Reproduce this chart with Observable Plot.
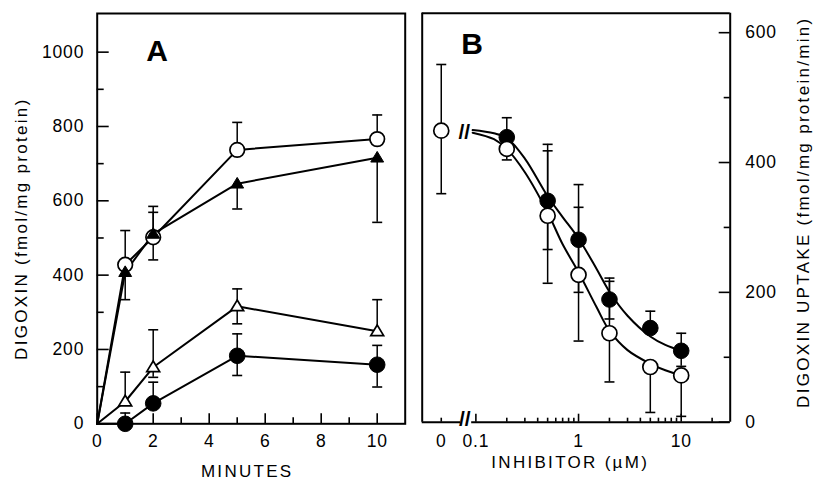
<!DOCTYPE html>
<html><head><meta charset="utf-8">
<script src="https://cdn.jsdelivr.net/npm/d3@7"></script>
<script src="https://cdn.jsdelivr.net/npm/@observablehq/plot@0.6"></script>
<style>
body{margin:0;background:#fff;}
#chart{position:relative;width:813px;height:482px;background:#fff;}
#chart svg{position:absolute;left:0;top:0;}
</style></head><body><div id="chart"></div>
<script>
// ---------- Panel A: time course ----------
const minutes = [1, 2, 5, 10];
const openCircleA   = [428, 502, 737, 766];
const openCircleALo = [428, 441, 737, 766];
const openCircleAHi = [520, 569, 811, 831];
const filledTriA    = [408, 511, 646, 716];
const filledTriALo  = [334, 511, 578, 542];
const filledTriAHi  = [408, 585, 646, 716];
const openTriA      = [60, 152, 316, 249];
const openTriALo    = [60, 125, 269, 249];
const openTriAHi    = [139, 253, 363, 334];
const filledCircleA   = [0, 55, 183, 159];
const filledCircleALo = [0, 55, 130, 99];
const filledCircleAHi = [29, 112, 242, 211];
const xTicksA = [0, 2, 4, 6, 8, 10];
const xMinorA = [1, 3, 5, 7, 9];
const yTicksA = [0, 200, 400, 600, 800, 1000];
const yMinorA = [100, 300, 500, 700, 900];

// ---------- Panel B: inhibition ----------
const ZERO = 0.046;             // axis position of the "0" (no inhibitor) category
const conc = [0.2, 0.5, 1, 2, 5, 10];
const filledB   = [439, 341, 281, 189, 145, 110];
const filledBLo = [439, 266, 200, 159, 145, 86];
const filledBHi = [469, 428, 366, 222, 171, 137];
const openB     = [421, 318, 227, 137, 85, 72];
const openBLo   = [404, 214, 125, 62, 15, 9];
const openBHi   = [421, 418, 331, 217, 85, 72];
const controlB = [449], controlBLo = [352], controlBHi = [551];
const fitConc   = [0.093, 0.15, 0.2, 0.3, 0.5, 0.7, 1, 1.5, 2, 3, 5, 7, 10];
const fitFilled = [450, 445, 438, 406, 348, 316, 283, 236, 201, 164, 132, 119, 110];
const fitOpen   = [446, 436, 421, 385, 323, 274, 231, 177, 141, 111, 90, 80, 72];
const xTicksB = [ZERO, 0.1, 1, 10];
const xTickLabelsB = ["0", "0.1", "1", "10"];
const xMinorB = [ZERO, 0.2, 0.3, 0.4, 0.5, 0.6, 0.7, 0.8, 0.9, 2, 3, 4, 5, 6, 7, 8, 9, 20];
const yTicksB = [0, 200, 400, 600];
const yMinorB = [100, 300, 500];
const BREAK_L = 0.071, BREAK_R = 0.091, BREAK_MARK = 0.078;

// ---------- helpers ----------
const capSymbol = {draw(ctx, size) { const r = Math.sqrt(size / Math.PI); ctx.moveTo(-r, 0); ctx.lineTo(r, 0); }};
const triSymbol = {draw(ctx, size) { const r = Math.sqrt(size / Math.PI);
  ctx.moveTo(0, -0.9 * r); ctx.lineTo(0.92 * r, 0.62 * r); ctx.lineTo(-0.92 * r, 0.62 * r); ctx.closePath(); }};
const rows = (xs, ys, lo, hi) => xs.map((x, i) => ({x, y: ys[i], lo: lo[i], hi: hi[i]}));
const caps = (rs) => rs.flatMap(d => [d.lo !== d.y ? {x: d.x, y: d.lo} : null, d.hi !== d.y ? {x: d.x, y: d.hi} : null]).filter(Boolean);
const font = "'Liberation Sans', Arial, Helvetica, sans-serif";
const LW = 2, TFS = 17.5, TITLE = 17;
const mid = {textAnchor: "middle", lineAnchor: "middle", fill: "black"};
const titles = ["MINUTES", "DIGOXIN (fmol/mg protein)", "INHIBITOR (\u00b5M)", "DIGOXIN UPTAKE (fmol/mg protein/min)"];

// ---------- Panel A plot ----------
const A = {oc: rows(minutes, openCircleA, openCircleALo, openCircleAHi),
           ft: rows(minutes, filledTriA, filledTriALo, filledTriAHi),
           ot: rows(minutes, openTriA, openTriALo, openTriAHi),
           fc: rows(minutes, filledCircleA, filledCircleALo, filledCircleAHi)};
const allA = [...A.oc, ...A.ft, ...A.ot, ...A.fc];
const origin = {x: 0, y: 0};
const mlA = 96.7, mrA = 813 - 404.7, mtA = 13, mbA = 482 - 423.3;
const phA = 482 - mtA - mbA, pwA = 813 - mlA - mrA;

const plotA = Plot.plot({
  width: 813, height: 482,
  marginLeft: mlA, marginRight: mrA, marginTop: mtA, marginBottom: mbA,
  style: {fontFamily: font, background: "white", color: "black"},
  x: {domain: [0, 11], axis: null},
  y: {domain: [0, 1104], axis: null},
  marks: [
    Plot.tickX(xTicksA, {x: d => d, insetTop: phA - 10, strokeWidth: 1.6}),
    Plot.tickX(xMinorA, {x: d => d, insetTop: phA - 6, strokeWidth: 1.6}),
    Plot.tickY(yTicksA, {y: d => d, insetRight: pwA - 12, strokeWidth: 1.6}),
    Plot.tickY(yMinorA, {y: d => d, insetRight: pwA - 7, strokeWidth: 1.6}),
    Plot.text(xTicksA, {x: d => d, frameAnchor: "bottom", dy: 18, text: d => String(d), fontSize: TFS, ...mid}),
    Plot.text(yTicksA, {y: d => d, frameAnchor: "left", dx: -13, text: d => String(d), fontSize: TFS, ...mid, textAnchor: "end"}),
    Plot.frame({stroke: "black", strokeWidth: 2}),
    ...[A.oc, A.ft, A.ot, A.fc].map(s => Plot.line([origin, ...s], {x: "x", y: "y", stroke: "black", strokeWidth: LW})),
    Plot.ruleX(allA, {x: "x", y1: "lo", y2: "hi", stroke: "black", strokeWidth: 1.5}),
    Plot.dot(caps(allA), {x: "x", y: "y", symbol: capSymbol, r: 5, stroke: "black", strokeWidth: 1.6, fill: "none"}),
    Plot.dot(A.oc, {x: "x", y: "y", r: 7.3, fill: "white", stroke: "black", strokeWidth: 1.7}),
    Plot.dot(A.ft, {x: "x", y: "y", r: 7, symbol: triSymbol, fill: "black", stroke: "black", strokeWidth: 1}),
    Plot.dot(A.ot, {x: "x", y: "y", r: 7, symbol: triSymbol, fill: "white", stroke: "black", strokeWidth: 1.7}),
    Plot.dot(A.fc, {x: "x", y: "y", r: 7.8, fill: "black", stroke: "black", strokeWidth: 1}),
    Plot.text(["A"], {frameAnchor: "top-left", dx: 60, dy: 38, fontSize: 30, fontWeight: "bold", ...mid}),
    Plot.text(["MINUTES"], {frameAnchor: "bottom", dx: -4, dy: 48, fontSize: TITLE, ...mid}),
    Plot.text(["DIGOXIN (fmol/mg protein)"], {frameAnchor: "left", dx: -76, dy: 10, rotate: -90, fontSize: TITLE, ...mid})
  ]
});

// ---------- Panel B plot ----------
const fb = rows(conc, filledB, filledBLo, filledBHi);
const ob = rows(conc, openB, openBLo, openBHi);
const cb = rows([ZERO], controlB, controlBLo, controlBHi);
const allB = [...fb, ...ob, ...cb];
const fitF = fitConc.map((x, i) => ({x, y: fitFilled[i]}));
const fitO = fitConc.map((x, i) => ({x, y: fitOpen[i]}));
const mlB = 421.7, mrB = 813 - 729.7, mtB = 12.7, mbB = 482 - 421.7;
const phB = 482 - mtB - mbB, pwB = 813 - mlB - mrB;
const xMinB = 0.03, xMaxB = 30, yMaxB = 630;

const plotB = Plot.plot({
  width: 813, height: 482,
  marginLeft: mlB, marginRight: mrB, marginTop: mtB, marginBottom: mbB,
  style: {fontFamily: font, background: "transparent", color: "black"},
  x: {type: "log", domain: [xMinB, xMaxB], axis: null},
  y: {domain: [0, yMaxB], axis: null},
  marks: [
    Plot.tickX(xTicksB.filter(d => d !== ZERO), {x: d => d, insetTop: phB - 8, strokeWidth: 1.6}),
    Plot.tickX(xMinorB, {x: d => d, insetTop: phB - 4, strokeWidth: 1.6}),
    Plot.tickY(yTicksB, {y: d => d, insetLeft: pwB - 11, strokeWidth: 1.6}),
    Plot.tickY(yMinorB, {y: d => d, insetLeft: pwB - 6, strokeWidth: 1.6}),
    Plot.text(xTicksB, {x: d => d, frameAnchor: "bottom", dy: 19, text: (d, i) => xTickLabelsB[i], fontSize: TFS, ...mid}),
    Plot.text(yTicksB, {y: d => d, frameAnchor: "right", dx: 15, text: d => String(d), fontSize: TFS, ...mid, textAnchor: "start"}),
    // frame with a broken bottom edge
    Plot.ruleY([yMaxB], {stroke: "black", strokeWidth: 2}),
    Plot.ruleX([xMinB, xMaxB], {stroke: "black", strokeWidth: 2}),
    Plot.ruleY([0], {x1: xMinB, x2: BREAK_L, stroke: "black", strokeWidth: 2}),
    Plot.ruleY([0], {x1: BREAK_R, x2: xMaxB, stroke: "black", strokeWidth: 2}),
    Plot.text(["//"], {x: BREAK_MARK, y: 0, dy: -3, fontSize: 21, fontWeight: "bold", ...mid}),
    Plot.text(["//"], {x: BREAK_MARK - 0.001, y: 447, fontSize: 21, fontWeight: "bold", ...mid}),
    // fitted curves
    Plot.line(fitF, {x: "x", y: "y", curve: "catmull-rom", stroke: "black", strokeWidth: 2}),
    Plot.line(fitO, {x: "x", y: "y", curve: "catmull-rom", stroke: "black", strokeWidth: 2}),
    Plot.ruleX(allB, {x: "x", y1: "lo", y2: "hi", stroke: "black", strokeWidth: 1.5}),
    Plot.dot(caps(allB), {x: "x", y: "y", symbol: capSymbol, r: 5, stroke: "black", strokeWidth: 1.6, fill: "none"}),
    Plot.dot(fb, {x: "x", y: "y", r: 7.8, fill: "black", stroke: "black", strokeWidth: 1}),
    Plot.dot([...ob, ...cb], {x: "x", y: "y", r: 7.5, fill: "white", stroke: "black", strokeWidth: 1.7}),
    Plot.text(["B"], {frameAnchor: "top-left", dx: 50, dy: 31.5, fontSize: 30, fontWeight: "bold", ...mid}),
    Plot.text(["INHIBITOR (\u00b5M)"], {frameAnchor: "bottom", dx: -6, dy: 40, fontSize: TITLE, ...mid}),
    Plot.text(["DIGOXIN UPTAKE (fmol/mg protein/min)"], {frameAnchor: "right", dx: 73.3, dy: -5.5, rotate: -90, fontSize: TITLE, ...mid})
  ]
});

const chart = document.getElementById("chart");
chart.appendChild(plotA);
chart.appendChild(plotB);
// wide, scanned-looking lettering
for (const svg of [plotA, plotB]) {
  d3.select(svg).selectAll("text").each(function() {
    const t = this.textContent;
    if (titles.includes(t)) { this.setAttribute("letter-spacing", "2.3"); this.style.letterSpacing = "2.3px"; }
    else if (/^[0-9.]+$/.test(t)) { this.setAttribute("letter-spacing", "0.8"); this.style.letterSpacing = "0.8px"; }
  });
}
</script></body></html>
